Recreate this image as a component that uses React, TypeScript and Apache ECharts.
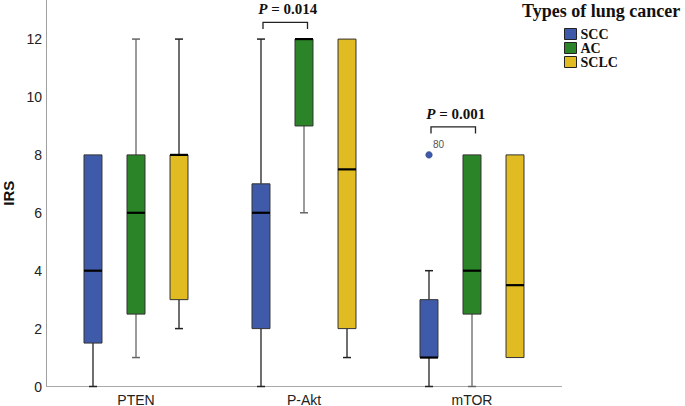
import React, { useEffect, useRef } from "react";
import * as echarts from "echarts";

// Categories (markers)
const CATEGORIES = ["PTEN", "P-Akt", "mTOR"];
// Groups (lung cancer types)
const GROUPS = ["SCC", "AC", "SCLC"];
const GROUP_COLORS = ["#3F5AA8", "#2B8428", "#E0BC22"];
const WHISKER_COLORS = ["#222222", "#666666", "#222222"];

// Box statistics per category: [min, q1, median, q3, max]
const SCC_STATS = [
  [0, 1.5, 4, 8, 8],
  [0, 2, 6, 7, 12],
  [0, 1, 1, 3, 4],
];
const AC_STATS = [
  [1, 2.5, 6, 8, 12],
  [6, 9, 12, 12, 12],
  [0, 2.5, 4, 8, 8],
];
const SCLC_STATS = [
  [2, 3, 8, 8, 12],
  [1, 2, 7.5, 12, 12],
  [1, 1, 3.5, 8, 8],
];
const ALL_STATS = [SCC_STATS, AC_STATS, SCLC_STATS];

// Outliers: [category index, group index, value, case label]
const OUTLIERS = [[2, 0, 8, "80"]];

// Significance brackets: [category index, bracket level, p-value text]
const P_BRACKETS = [
  [1, 12.58, "0.014"],
  [2, 8.97, "0.001"],
];

const Y_TICKS = [0, 2, 4, 6, 8, 10, 12];
const Y_MAX = 13.35;

const GROUP_OFFSET = 0.256; // fraction of band between groups
const BOX_WIDTH = 0.107; // fraction of band

function boxRenderer(groupIdx: number) {
  return (params: any, api: any) => {
    const cat = api.value(0);
    const vMin = api.value(1);
    const q1 = api.value(2);
    const med = api.value(3);
    const q3 = api.value(4);
    const vMax = api.value(5);
    const band = api.size([1, 0])[0];
    const base = api.coord([cat, 0]);
    const cx = base[0] + (groupIdx - 1) * GROUP_OFFSET * band;
    const w = BOX_WIDTH * band;
    const y = (v: number) => api.coord([cat, v])[1];
    const capHalf = 4;
    const wc = WHISKER_COLORS[groupIdx];
    const children: any[] = [];
    if (vMin < q1) {
      children.push({
        type: "line",
        shape: { x1: cx, y1: y(vMin), x2: cx, y2: y(q1) },
        style: { stroke: wc, lineWidth: 1.3 },
      });
      children.push({
        type: "line",
        shape: { x1: cx - capHalf, y1: y(vMin), x2: cx + capHalf, y2: y(vMin) },
        style: { stroke: wc, lineWidth: 1.5 },
      });
    }
    if (vMax > q3) {
      children.push({
        type: "line",
        shape: { x1: cx, y1: y(vMax), x2: cx, y2: y(q3) },
        style: { stroke: wc, lineWidth: 1.3 },
      });
      children.push({
        type: "line",
        shape: { x1: cx - capHalf, y1: y(vMax), x2: cx + capHalf, y2: y(vMax) },
        style: { stroke: wc, lineWidth: 1.5 },
      });
    }
    children.push({
      type: "rect",
      shape: { x: cx - w / 2, y: y(q3), width: w, height: y(q1) - y(q3) },
      style: { fill: GROUP_COLORS[groupIdx], stroke: "#333", lineWidth: 1 },
    });
    children.push({
      type: "line",
      shape: { x1: cx - w / 2, y1: y(med), x2: cx + w / 2, y2: y(med) },
      style: { stroke: "#000", lineWidth: 2.2 },
    });
    return { type: "group", children };
  };
}

export default function App() {
  const ref = useRef<HTMLDivElement>(null);
  useEffect(() => {
    if (!ref.current) return;
    const chart = echarts.init(ref.current, null, { renderer: "svg" });

    const boxSeries = GROUPS.map((g, gi) => ({
      name: g,
      type: "custom",
      itemStyle: { color: GROUP_COLORS[gi] },
      renderItem: boxRenderer(gi),
      encode: { x: 0, y: [1, 2, 3, 4, 5] },
      data: ALL_STATS[gi].map((s, ci) => [ci, ...s]),
      z: 3,
    }));

    const outlierSeries = {
      type: "custom",
      name: "outliers",
      renderItem: (params: any, api: any) => {
        const cat = api.value(0);
        const gi = api.value(1);
        const band = api.size([1, 0])[0];
        const p = api.coord([cat, api.value(2)]);
        const cx = p[0] + (gi - 1) * GROUP_OFFSET * band;
        const label = OUTLIERS[params.dataIndex][3] as string;
        return {
          type: "group",
          children: [
            {
              type: "circle",
              shape: { cx, cy: p[1], r: 3.3 },
              style: { fill: GROUP_COLORS[gi], stroke: "#2a3f80", lineWidth: 0.5 },
            },
            {
              type: "text",
              x: cx + 4,
              y: p[1] - 10,
              style: {
                text: label,
                fill: "#555",
                fontSize: 10,
                fontFamily: "Liberation Sans",
                verticalAlign: "middle",
                align: "left",
              },
            },
          ],
        };
      },
      encode: { x: 0, y: 2 },
      data: OUTLIERS.map((o) => [o[0], o[1], o[2]]),
      z: 4,
    };

    const bracketSeries = {
      type: "custom",
      name: "pvalues",
      renderItem: (params: any, api: any) => {
        const cat = api.value(0);
        const level = api.value(1);
        const band = api.size([1, 0])[0];
        const p = api.coord([cat, level]);
        const xl = p[0] - GROUP_OFFSET * band + 2;
        const xr = p[0] + 3.5;
        const yTop = p[1];
        const yLeg = yTop + 6.7;
        const text = P_BRACKETS[params.dataIndex][2] as string;
        return {
          type: "group",
          children: [
            {
              type: "polyline",
              shape: { points: [[xl, yLeg], [xl, yTop], [xr, yTop], [xr, yLeg]] },
              style: { stroke: "#222", lineWidth: 1.3, fill: null },
            },
            {
              type: "text",
              x: (xl + xr) / 2 + 2.5,
              y: yTop - 13,
              style: {
                text: "{i|P} = " + text,
                rich: {
                  i: {
                    fontStyle: "italic",
                    fontWeight: "bold",
                    fontFamily: "Liberation Serif",
                    fontSize: 15,
                    fill: "#111",
                  },
                },
                fontFamily: "Liberation Serif",
                fontWeight: "bold",
                fontSize: 15,
                fill: "#111",
                align: "center",
                verticalAlign: "middle",
              },
            },
          ],
        };
      },
      encode: { x: 0, y: 1 },
      data: P_BRACKETS.map((b) => [b[0], b[1]]),
      z: 4,
    };

    chart.setOption({
      animation: false,
      backgroundColor: "#ffffff",
      title: {
        text: "Types of lung cancer",
        left: 522,
        top: 2,
        padding: 0,
        textStyle: {
          fontFamily: "Liberation Serif",
          fontWeight: "bold",
          fontSize: 18,
          color: "#111",
        },
      },
      legend: {
        orient: "vertical",
        left: 564,
        top: 27,
        padding: 0,
        itemWidth: 12,
        itemHeight: 11,
        itemGap: 0,
        textStyle: {
          fontFamily: "Liberation Serif",
          fontWeight: "bold",
          fontSize: 14,
          color: "#111",
          lineHeight: 14,
          padding: [0, 0, 0, -1],
        },
        data: GROUPS.map((g, gi) => ({
          name: g,
          icon: "rect",
          itemStyle: { color: GROUP_COLORS[gi], borderColor: "#222", borderWidth: 1 },
        })),
      },
      grid: {
        left: 52,
        right: 129,
        top: 0,
        bottom: 19.5,
        containLabel: false,
        outerBoundsMode: "none",
      },
      xAxis: {
        type: "category",
        data: CATEGORIES,
        axisLine: { show: false },
        axisTick: { show: false },
        splitLine: { show: false },
        axisLabel: {
          fontFamily: "Liberation Sans",
          fontSize: 14,
          color: "#222",
          margin: 6,
        },
      },
      yAxis: {
        type: "value",
        min: 0,
        max: Y_MAX,
        interval: 2,
        offset: 6,
        name: "IRS",
        nameLocation: "middle",
        nameGap: 29,
        nameTextStyle: {
          fontFamily: "Liberation Sans",
          fontWeight: "bold",
          fontSize: 15,
          color: "#111",
        },
        axisLine: { show: true, lineStyle: { color: "#a0a0a0", width: 1 } },
        axisTick: { show: false },
        splitLine: { show: false },
        axisLabel: {
          fontFamily: "Liberation Sans",
          fontSize: 14,
          color: "#222",
          margin: 4,
          formatter: (v: number) => (Y_TICKS.includes(v) ? String(v) : ""),
        },
      },
      graphic: [
        {
          type: "line",
          shape: { x1: 46, y1: 386.5, x2: 562, y2: 386.5 },
          style: { stroke: "#a8a8a8", lineWidth: 1 },
          z: 1,
        },
      ],
      series: [...boxSeries, outlierSeries, bracketSeries],
    });
    return () => chart.dispose();
  }, []);
  return (
    <div
      ref={ref}
      style={{ position: "fixed", left: 0, top: 0, width: 685, height: 406, background: "#fff" }}
    />
  );
}
